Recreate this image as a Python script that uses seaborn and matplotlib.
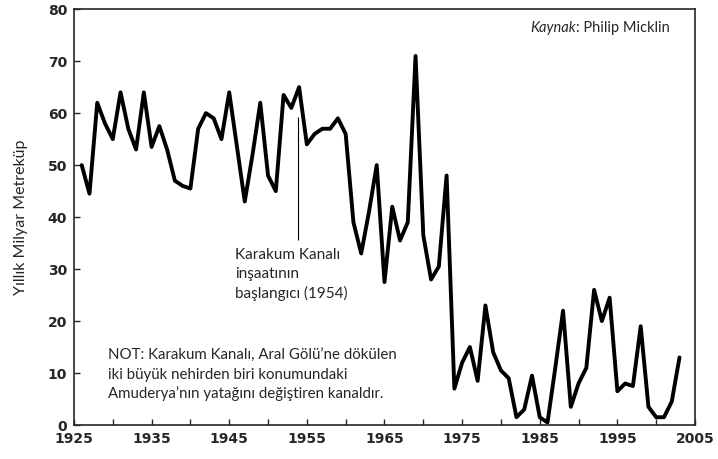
import matplotlib
matplotlib.use("Agg")
import matplotlib.pyplot as plt
import seaborn as sns
import pandas as pd
from matplotlib.ticker import MultipleLocator

# Amuderya annual flow
years = list(range(1926, 2004))
flow = [
    50, 44.5, 62, 58, 55, 64, 57, 53, 64, 53.5,      # 1926-1935
    57.5, 53, 47, 46, 45.5, 57, 60, 59, 55, 64,      # 1936-1945
    53.5, 43, 52, 62, 48, 45, 63.5, 61, 65, 54,      # 1946-1955
    56, 57, 57, 59, 56, 39, 33, 41, 50, 27.5,        # 1956-1965
    42, 35.5, 39, 71, 36.5, 28, 30.5, 48, 7, 12,     # 1966-1975
    15, 8.5, 23, 14, 10.5, 9, 1.5, 3, 9.5, 1.5,      # 1976-1985
    0.5, 11, 22, 3.5, 8, 11, 26, 20, 24.5, 6.5,      # 1986-1995
    8, 7.5, 19, 3.5, 1.5, 1.5, 4.5, 13,              # 1996-2003
]
x_ticks = list(range(1925, 2006, 10))
y_ticks = list(range(0, 81, 10))
canal_year = 1954

df = pd.DataFrame({"Yil": years, "Akis": flow})

sns.set_style("ticks")
plt.rcParams["font.family"] = ["DejaVu Sans"]
TXT = ["Lato", "DejaVu Sans"]

fig = plt.figure(figsize=(7.18, 4.59), dpi=100)
ax = fig.add_axes([0.103, 0.074, 0.865, 0.906])

sns.lineplot(data=df, x="Yil", y="Akis", color="black", linewidth=2.8, ax=ax)

ax.set_xlim(1925, 2005)
ax.set_ylim(0, 80)
ax.set_xticks(x_ticks)
ax.set_yticks(y_ticks)
ax.xaxis.set_minor_locator(MultipleLocator(5))
ax.tick_params(axis="both", which="both", direction="in", length=4, width=1,
               labelsize=10, pad=5)
for lbl in ax.get_xticklabels() + ax.get_yticklabels():
    lbl.set_fontweight("semibold")
for sp in ax.spines.values():
    sp.set_visible(True)
    sp.set_linewidth(1.2)

ax.set_xlabel("")
ax.set_ylabel("Yıllık Milyar Metreküp", family=TXT, fontsize=11.5, labelpad=14)

# annotation for the canal
ax.vlines(canal_year - 0.2, 35.5, 59.3, color="black", lw=0.8)
ax.text(1945.7, 34.0, "Karakum Kanalı\ninşaatının\nbaşlangıcı (1954)",
        family=TXT, fontsize=11, va="top", ha="left", linespacing=1.4)

ax.text(1929.4, 14.6,
        "NOT: Karakum Kanalı, Aral Gölü’ne dökülen\n"
        "iki büyük nehirden biri konumundaki\n"
        "Amuderya’nın yatağını değiştiren kanaldır.",
        family=TXT, fontsize=10.8, va="top", ha="left", linespacing=1.4)

src = ax.text(1983.8, 76.3, "Kaynak", family=TXT, fontsize=10.5,
              style="italic", ha="left", va="center")
ax.annotate(": Philip Micklin", xy=(1, 0.5), xycoords=src, family=TXT,
            fontsize=10.5, ha="left", va="center")

fig.savefig("out.png", dpi=100)
